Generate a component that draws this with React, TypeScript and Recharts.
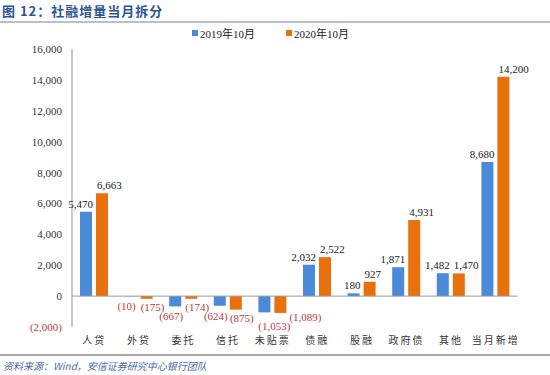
import React from 'react';
import { BarChart, Bar, XAxis, YAxis, ReferenceLine, LabelList, Legend } from 'recharts';

const categories = ['人贷', '外贷', '委托', '信托', '未贴票', '债融', '股融', '政府债', '其他', '当月新增'];
const oct2019 = [5470, -10, -667, -624, -1053, 2032, 180, 1871, 1482, 8680];
const oct2020 = [6663, -175, -174, -875, -1089, 2522, 927, 4931, 1470, 14200];
const yTicks = [-2000, 0, 2000, 4000, 6000, 8000, 10000, 12000, 14000, 16000];

const data = categories.map((name, i) => ({ name, a: oct2019[i], b: oct2020[i] }));

const BLUE = '#4a8ad8';
const ORANGE = '#e8710e';
const RED = '#c0393b';
const SERIF = '"Liberation Serif", "Times New Roman", serif';
const CJK = '"Noto Sans CJK SC", sans-serif';

const fmt = (v: number) => {
  const s = Math.abs(v).toLocaleString('en-US');
  return v < 0 ? `(${s})` : s;
};

const YTick = (props: any) => {
  const { x, y, payload } = props;
  const v = payload.value as number;
  return (
    <text x={x} y={y} dy={4} textAnchor="end" fontFamily={SERIF} fontSize={11} fill={v < 0 ? RED : '#333'}>
      {fmt(v)}
    </text>
  );
};

const XTick = (props: any) => {
  const { x, y, payload } = props;
  return (
    <text x={x} y={y} dy={9} textAnchor="middle" fontFamily={CJK} fontSize={10} letterSpacing={2} fill="#333">
      {payload.value}
    </text>
  );
};

// blue labels lean left, orange labels lean right (like the Excel original)
const makeLabel = (side: 'left' | 'right') => (props: any) => {
  const { x, y, width, height, value } = props;
  const v = Number(value);
  const top = Math.min(y, y + height);
  const bottom = Math.max(y, y + height);
  const cx = x + width / 2;
  if (v < 0) {
    const wide = v <= -1000;
    let lx = side === 'left' ? cx - 4 : cx + 6;
    let ly = side === 'left' ? bottom + 14 : bottom + 12;
    let anchor: 'middle' | 'start' = 'middle';
    if (wide && side === 'left') {
      lx = cx + 10;
      ly = bottom + 18;
    } else if (wide) {
      lx = x + width + 3;
      ly = bottom + 8;
      anchor = 'start';
    }
    return (
      <text x={lx} y={ly} textAnchor={anchor} fontFamily={SERIF} fontSize={11} fill={RED}>
        {fmt(v)}
      </text>
    );
  }
  return (
    <text
      x={side === 'left' ? cx + 7 : cx - 5}
      y={top - 4}
      textAnchor={side === 'left' ? 'end' : 'start'}
      fontFamily={SERIF}
      fontSize={11}
      fill="#222"
    >
      {fmt(v)}
    </text>
  );
};

const BlueLabel = makeLabel('left');
const OrangeLabel = makeLabel('right');

const LegendContent = () => (
  <div style={{ display: 'flex', fontFamily: SERIF, fontSize: 11, color: '#222' }}>
    {[
      ['2019年10月', BLUE],
      ['2020年10月', ORANGE],
    ].map(([label, color]) => (
      <div key={label} style={{ display: 'flex', alignItems: 'center', width: 94 }}>
        <span style={{ display: 'inline-block', width: 6, height: 6, background: color, marginRight: 2 }} />
        <span style={{ fontFamily: `${SERIF}, ${CJK}` }}>{label}</span>
      </div>
    ))}
  </div>
);

export default function App() {
  return (
    <div style={{ position: 'absolute', left: 0, top: 0, width: 550, height: 375, background: '#fff', overflow: 'hidden' }}>
      <div
        style={{
          position: 'absolute',
          left: 2,
          top: 1,
          fontFamily: CJK,
          fontWeight: 700,
          fontSize: 13,
          color: '#2c5597',
          letterSpacing: 1,
        }}
      >
        图 12：社融增量当月拆分
      </div>
      <div style={{ position: 'absolute', left: 0, top: 21, width: 550, height: 2, background: '#b8bfd0' }} />
      <BarChart
        width={550}
        height={375}
        data={data}
        margin={{ top: 33, right: 32, left: 0, bottom: 20 }}
        barSize={12}
        barGap={4}
      >
        <Legend
          verticalAlign="top"
          content={<LegendContent />}
          wrapperStyle={{ top: 25, left: 192, width: 200 }}
        />
        <XAxis
          dataKey="name"
          axisLine={false}
          tickLine={false}
          tickSize={0}
          tickMargin={8}
          height={28}
          tick={<XTick />}
          interval={0}
        />
        <YAxis
          domain={[-2000, 16000]}
          ticks={yTicks}
          width={72}
          tickLine={false}
          tickSize={0}
          tickMargin={10}
          axisLine={{ stroke: '#999' }}
          tick={<YTick />}
          interval={0}
        />
        <ReferenceLine y={0} stroke="#999" />
        <Bar dataKey="a" name="2019年10月" fill={BLUE} isAnimationActive={false}>
          <LabelList dataKey="a" content={<BlueLabel />} />
        </Bar>
        <Bar dataKey="b" name="2020年10月" fill={ORANGE} isAnimationActive={false}>
          <LabelList dataKey="b" content={<OrangeLabel />} />
        </Bar>
      </BarChart>
      <div style={{ position: 'absolute', left: 0, top: 354, width: 550, height: 2, background: '#a8a8a8' }} />
      <div
        style={{
          position: 'absolute',
          left: 3,
          top: 358,
          fontFamily: CJK,
          fontStyle: 'italic',
          fontSize: 10,
          color: '#4a6da6',
        }}
      >
        资料来源：Wind，安信证券研究中心银行团队
      </div>
    </div>
  );
}
